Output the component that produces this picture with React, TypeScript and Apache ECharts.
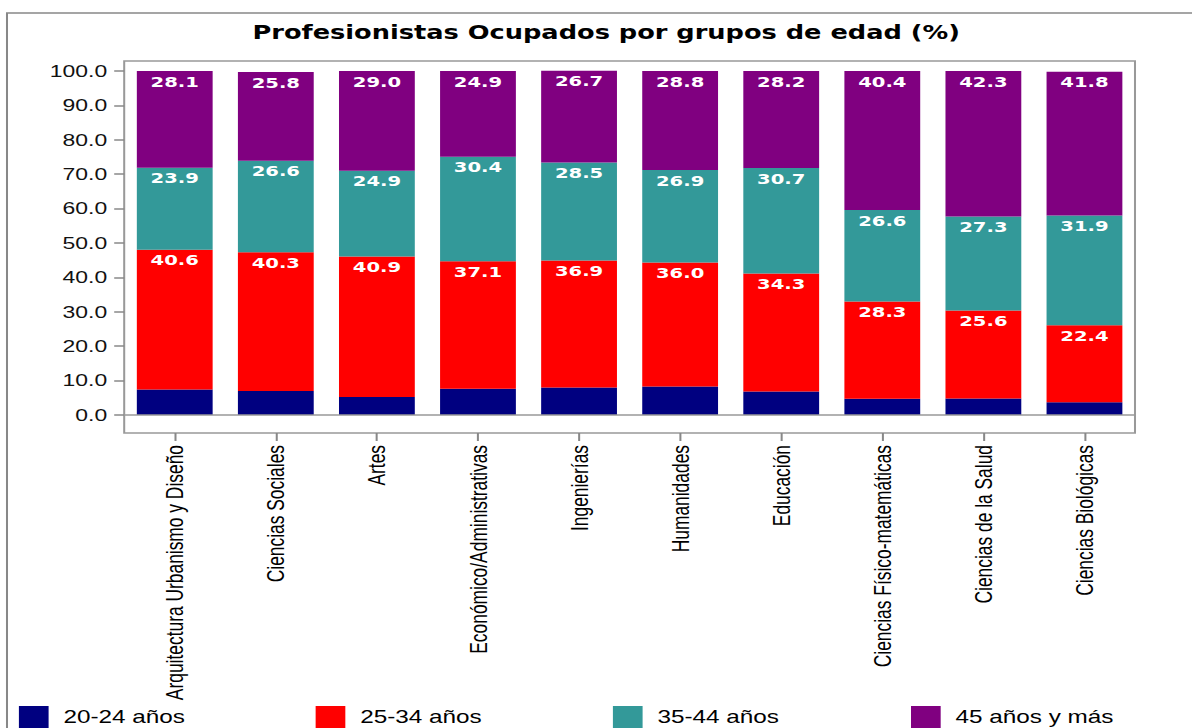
import React, { useEffect, useRef } from "react";
import * as echarts from "echarts";

const categories = [
  "Arquitectura Urbanismo y Diseño",
  "Ciencias Sociales",
  "Artes",
  "Económico/Administrativas",
  "Ingenierías",
  "Humanidades",
  "Educación",
  "Ciencias Físico-matemáticas",
  "Ciencias de la Salud",
  "Ciencias Biológicas",
];
const seriesNames = ["20-24 años", "25-34 años", "35-44 años", "45 años y más"];
const age2024 = [7.4, 7.0, 5.2, 7.6, 8.0, 8.3, 6.8, 4.7, 4.8, 3.7];
const age2534 = [40.6, 40.3, 40.9, 37.1, 36.9, 36.0, 34.3, 28.3, 25.6, 22.4];
const age3544 = [23.9, 26.6, 24.9, 30.4, 28.5, 26.9, 30.7, 26.6, 27.3, 31.9];
const age45 = [28.1, 25.8, 29.0, 24.9, 26.7, 28.8, 28.2, 40.4, 42.3, 41.8];
const yTicks = [0, 10, 20, 30, 40, 50, 60, 70, 80, 90, 100];
const colors = ["#000080", "#ff0000", "#339999", "#800080"];

const SX = 1.35;
const W = 1192 / SX;
const H = 728;

export default function App() {
  const ref = useRef<HTMLDivElement>(null);
  useEffect(() => {
    if (!ref.current) return;
    const chart = echarts.init(ref.current, null, { renderer: "svg" });
    const valueLabel = {
      show: true,
      position: "insideTop",
      distance: 3,
      color: "#ffffff",
      fontFamily: "DejaVu Sans",
      fontWeight: "bold",
      fontSize: 14.5,
      formatter: (p: any) => Number(p.value).toFixed(1),
    };
    const datasets = [age2024, age2534, age3544, age45];
    const legendLefts = [14, 233.8, 454, 674.8];
    chart.setOption({
      animation: false,
      backgroundColor: "#ffffff",
      title: {
        text: "Profesionistas Ocupados por grupos de edad (%)",
        left: 187,
        top: 23,
        padding: 0,
        textStyle: {
          fontFamily: "DejaVu Sans",
          fontWeight: "bold",
          fontSize: 19,
          color: "#000000",
        },
      },
      graphic: [
        {
          type: "rect",
          silent: true,
          z: -10,
          shape: { x: 7 / SX, y: 13, width: 2000, height: 2000 },
          style: { fill: "none", stroke: "#888888", lineWidth: 1.5 },
        },
      ],
      legend: seriesNames.map((n, i) => ({
        data: [n],
        left: legendLefts[i],
        top: 706,
        padding: 0,
        itemWidth: 22,
        itemHeight: 22,
        icon: "rect",
        selectedMode: false,
        textStyle: {
          fontFamily: "Liberation Sans",
          fontSize: 18,
          color: "#000000",
          padding: [0, 0, 0, 6],
        },
      })),
      grid: {
        left: 92,
        top: 61,
        width: 1135 / SX - 92,
        height: 372,
        show: true,
        borderColor: "#999999",
        borderWidth: 1.5,
        backgroundColor: "transparent",
      },
      xAxis: {
        type: "category",
        data: categories,
        axisLine: { show: false, onZero: false },
        axisTick: {
          show: true,
          alignWithLabel: true,
          length: 8,
          lineStyle: { color: "#888888", width: 1.5 },
        },
        axisLabel: {
          rotate: 90,
          interval: 0,
          margin: 12,
          fontFamily: "Liberation Sans",
          fontSize: 17.4,
          color: "#000000",
        },
      },
      yAxis: {
        type: "value",
        min: -5.23,
        max: 102.9,
        splitLine: { show: false },
        axisLine: { show: false },
        axisTick: {
          show: true,
          length: 7.4,
          customValues: yTicks,
          lineStyle: { color: "#888888", width: 1.5 },
        },
        axisLabel: {
          customValues: yTicks,
          margin: 12.6,
          fontFamily: "Liberation Sans",
          fontSize: 17,
          color: "#111111",
          formatter: (v: number) => Number(v).toFixed(1),
        },
      },
      series: seriesNames.map((n, i) => ({
        name: n,
        type: "bar",
        stack: "total",
        data: datasets[i],
        barCategoryGap: "25%",
        itemStyle: { color: colors[i] },
        label: i === 0 ? { show: false } : valueLabel,
        emphasis: { disabled: true },
        markLine:
          i === 0
            ? {
                silent: true,
                symbol: ["none", "none"],
                label: { show: false },
                lineStyle: { color: "#999999", width: 1.5, type: "solid" },
                data: [{ yAxis: 0 }],
              }
            : undefined,
      })),
    });
    return () => chart.dispose();
  }, []);
  return (
    <div
      ref={ref}
      style={{
        position: "absolute",
        left: 0,
        top: 0,
        width: W,
        height: H,
        transform: `scaleX(${SX})`,
        transformOrigin: "0 0",
      }}
    />
  );
}
